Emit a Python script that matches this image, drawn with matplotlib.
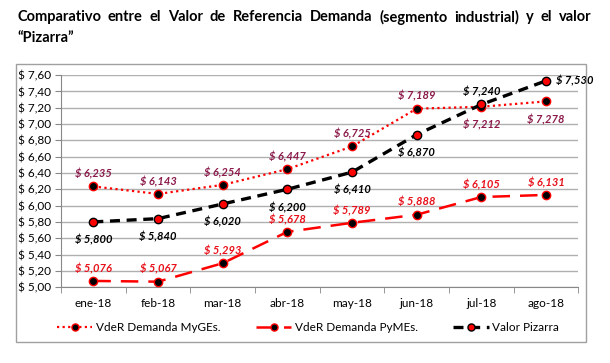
import matplotlib.pyplot as plt
from matplotlib.patches import Rectangle
from matplotlib.ticker import FuncFormatter, MultipleLocator, FixedLocator

plt.rcParams['font.family'] = ['Lato', 'DejaVu Sans']

months = ['ene-18', 'feb-18', 'mar-18', 'abr-18', 'may-18', 'jun-18', 'jul-18', 'ago-18']
myges = [6.235, 6.143, 6.254, 6.447, 6.725, 7.189, 7.212, 7.278]
pymes = [5.076, 5.067, 5.293, 5.678, 5.789, 5.888, 6.105, 6.131]
pizarra = [5.800, 5.840, 6.020, 6.200, 6.410, 6.870, 7.240, 7.530]

title_1 = 'Comparativo entre el Valor de Referencia Demanda (segmento industrial) y el valor'
title_2 = '\u201cPizarra\u201d'

# label offsets (points) for each series
myges_off = [(0, 9)] * 6 + [(0, -13), (0, -13)]
pymes_off = [(0, 9)] * 8
pizarra_off = [(0, -13)] * 6 + [(0, 9), (21, 0)]


def fmt(v):
    return '$ ' + f'{v:.3f}'.replace('.', ',')


fig = plt.figure(figsize=(6.1, 3.63), dpi=100)
ax = fig.add_axes([0.100, 0.209, 0.848, 0.584])

x = list(range(len(months)))
ax.plot(x, myges, color='red', linestyle=(0, (1, 1.5)), linewidth=1.6,
        marker='o', markersize=6, markerfacecolor='black', markeredgecolor='red',
        markeredgewidth=1, label='VdeR Demanda MyGEs.', zorder=3)
ax.plot(x, pymes, color='red', linestyle=(0, (7, 4)), linewidth=1.8,
        marker='o', markersize=6, markerfacecolor='black', markeredgecolor='red',
        markeredgewidth=1, label='VdeR Demanda PyMEs.', zorder=3)
ax.plot(x, pizarra, color='black', linestyle=(0, (3, 2)), linewidth=2.4,
        marker='o', markersize=6, markerfacecolor='red', markeredgecolor='black',
        markeredgewidth=1, label='Valor Pizarra', zorder=4)

for vals, offs, col in [(myges, myges_off, '#8b1a4a'),
                        (pymes, pymes_off, '#e8101a'),
                        (pizarra, pizarra_off, 'black')]:
    for i, v in enumerate(vals):
        ax.annotate(fmt(v), (i, v), xytext=offs[i], textcoords='offset points',
                    ha='center', va='center', fontsize=8, fontweight='bold',
                    fontstyle='italic', color=col, zorder=5)

ax.set_xlim(-0.5, 7.5)
ax.set_ylim(5.0, 7.6)
ax.yaxis.set_major_locator(MultipleLocator(0.2))
ax.yaxis.set_major_formatter(FuncFormatter(lambda v, p: '$ ' + f'{v:.2f}'.replace('.', ',')))
ax.set_xticks(x)
ax.set_xticklabels(months)
ax.xaxis.set_minor_locator(FixedLocator([i - 0.5 for i in range(len(months) + 1)]))
ax.tick_params(axis='x', which='major', length=0, pad=8, labelsize=8.5)
ax.tick_params(axis='x', which='minor', length=4, color='#888888')
ax.tick_params(axis='y', length=4, color='#888888', labelsize=8.5, pad=3)
ax.grid(axis='y', color='#b0b0b0', linewidth=1)
ax.set_axisbelow(True)
for s in ['top', 'right']:
    ax.spines[s].set_visible(False)
for s in ['left', 'bottom']:
    ax.spines[s].set_color('#888888')

fig.add_artist(Rectangle((0.026, 0.058), 0.934, 0.766, transform=fig.transFigure,
                         fill=False, edgecolor='#a0a0a0', linewidth=1))

fig.legend(loc='center', bbox_to_anchor=(0.505, 0.097), ncol=3, frameon=False,
           fontsize=8.5, handlelength=3.0, columnspacing=3.0, handletextpad=0.3,
           markerscale=0.85)

# justified first title line
x0, x1 = 0.028, 0.970
words = title_1.split()
renderer = fig.canvas.get_renderer()
texts = [fig.text(0, 0.953, w, fontsize=10.5, fontweight='bold', va='center', ha='left')
         for w in words]
widths = [t.get_window_extent(renderer).width / fig.bbox.width for t in texts]
gap = (x1 - x0 - sum(widths)) / (len(words) - 1)
pos = x0
for t, w in zip(texts, widths):
    t.set_x(pos)
    pos += w + gap
fig.text(x0, 0.895, title_2, fontsize=10.5, fontweight='bold', va='center', ha='left')

fig.savefig('out.png', dpi=100)
